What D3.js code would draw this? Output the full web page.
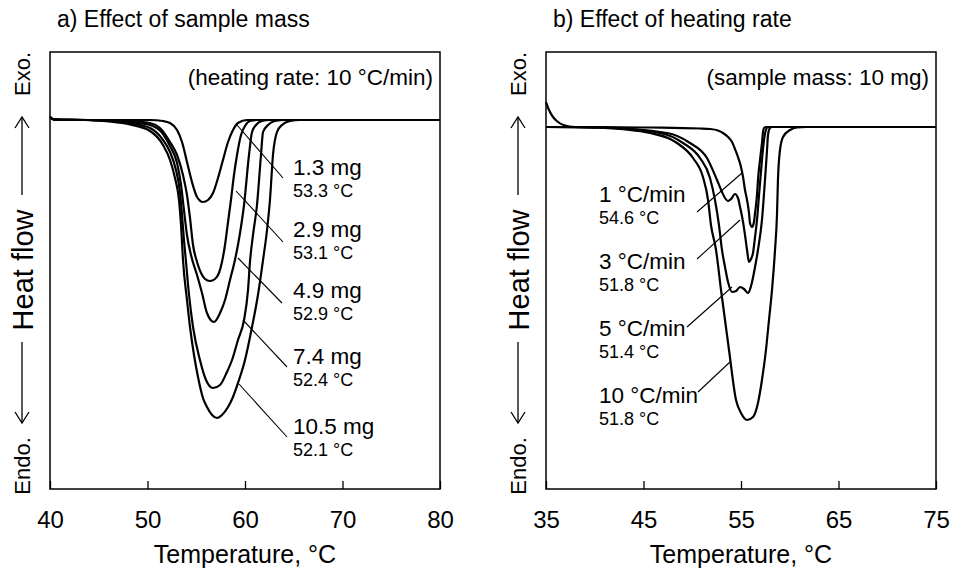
<!DOCTYPE html>
<html>
<head>
<meta charset="utf-8">
<script src="https://cdn.jsdelivr.net/npm/d3@7"></script>
<style>
body { margin: 0; background: #fff; }
svg { font-family: "Liberation Sans", Arial, sans-serif; }
.curve { fill: none; stroke: #000; stroke-width: 2.2px; stroke-linejoin: round; }
.leader { stroke: #000; stroke-width: 1.1px; }
.frame { fill: none; stroke: #000; stroke-width: 1.5px; }
</style>
</head>
<body>
<svg id="chart" width="954" height="575"></svg>
<script>

// ---- a) effect of sample mass (heating rate 10 C/min) ----
var massNames = ["1.3 mg", "2.9 mg", "4.9 mg", "7.4 mg", "10.5 mg"];
var massOnsets = ["53.3 °C", "53.1 °C", "52.9 °C", "52.4 °C", "52.1 °C"];

var mass_1_3 = [[40,0.3],[40.4,0.05],[45,0],[50.26,0],[51.59,-0.1],[52.31,-0.3],[53.03,-1.0],[53.54,-2.2],
  [54.05,-4.2],[54.56,-6.2],[55.08,-7.7],[55.69,-8.2],[56.21,-8.0],[56.72,-7.3],[57.23,-5.8],[57.74,-4.0],
  [58.26,-2.2],[58.77,-1.0],[59.28,-0.3],[60.21,0],[80,0]];
var mass_2_9 = [[40,0.3],[40.4,0.05],[44,0],[46.7,-0.05],[48.9,-0.15],[50.26,-0.3],[51.28,-0.8],[52.31,-2.2],
  [53.03,-3.5],[53.64,-5.5],[54.05,-7.5],[54.36,-9.8],[54.67,-12.5],[55.08,-14.2],[55.49,-15.3],[55.9,-15.9],
  [56.41,-16.1],[56.92,-15.9],[57.33,-15.3],[57.64,-14.2],[57.95,-12.5],[58.26,-10.2],[58.56,-8.0],[58.87,-5.5],
  [59.18,-3.5],[59.59,-1.5],[60.0,-0.6],[60.51,-0.1],[61.33,0],[80,0]];
var mass_4_9 = [[40,0.3],[40.4,0.05],[44,0],[46.5,-0.1],[48.5,-0.25],[50.26,-0.5],[51.59,-1.4],[52.31,-2.6],
  [53.03,-4.3],[53.44,-6.5],[53.74,-9.0],[54.05,-11.5],[54.46,-13.5],[55.08,-15.5],[55.59,-17.3],[56.1,-19.3],
  [56.82,-20.2],[57.44,-19.3],[57.95,-18.0],[58.46,-16.0],[58.97,-14.0],[59.49,-11.3],[59.9,-8.5],[60.41,-3.5],
  [60.72,-1.2],[61.13,-0.5],[61.74,-0.1],[62.56,0],[80,0]];
var mass_7_4 = [[40,0.3],[40.4,0.05],[44,0],[46.3,-0.1],[48.3,-0.35],[50.26,-0.8],[51.59,-2.0],[52.31,-3.2],
  [52.92,-5.0],[53.33,-7.2],[53.54,-9.5],[53.74,-12.0],[53.95,-14.2],[54.26,-17.5],[54.67,-20.7],[55.38,-24.0],
  [56.0,-26.0],[56.72,-26.8],[57.44,-26.5],[58.15,-25.2],[58.67,-24.0],[59.28,-22.0],[59.9,-20.0],[60.31,-17.0],
  [60.51,-14.2],[60.82,-11.5],[61.23,-8.5],[61.64,-3.5],[61.85,-1.2],[62.36,-0.5],[63.08,-0.1],[64.1,0],[80,0]];
var mass_10_5 = [[40,0.3],[40.4,0.05],[43.5,0],[46,-0.15],[48.2,-0.45],[50.26,-1.1],[51.59,-2.5],[52.31,-4.0],
  [52.82,-5.8],[53.23,-8.0],[53.44,-10.5],[53.64,-14.0],[54.05,-18.0],[54.36,-20.7],[54.77,-23.5],[55.18,-25.7],
  [55.69,-27.8],[56.1,-28.7],[56.62,-29.5],[57.13,-29.8],[57.64,-29.5],[58.26,-28.7],[58.77,-27.7],[59.28,-26.3],
  [60.0,-24.0],[60.72,-20.7],[61.33,-17.5],[61.85,-14.0],[62.26,-11.0],[62.56,-8.0],[62.87,-3.5],[63.28,-1.2],
  [63.79,-0.5],[64.62,-0.1],[65.64,0],[80,0]];

// leader lines: [T on curve, value on curve, T at label, value at label]
var massLeaders = [[59.18,-0.5,63.9,-5.8],[59.08,-7.1,63.9,-12.2],[59.28,-13.8,63.79,-18.3],
                   [59.79,-20.0,64.31,-24.7],[59.38,-26.4,64.31,-31.7]];
var massLabelT = 64.92;
var massLabelV = [-5.5, -11.7, -17.8, -24.4, -31.4];

// ---- b) effect of heating rate (sample mass 10 mg) ----
var rateNames = ["1 °C/min", "3 °C/min", "5 °C/min", "10 °C/min"];
var rateOnsets = ["54.6 °C", "51.8 °C", "51.4 °C", "51.8 °C"];

var rate_1 = [[35,0],[40.54,0],[45.67,-0.05],[50.79,-0.15],[51.82,-0.2],[52.64,-0.35],[53.15,-0.6],[53.67,-1.0],
  [54.08,-1.5],[54.38,-2.2],[54.69,-3.0],[55.0,-4.0],[55.21,-5.0],[55.41,-6.3],[55.62,-7.3],[55.82,-8.6],
  [55.92,-9.6],[56.13,-10.0],[56.33,-9.5],[56.44,-8.6],[56.64,-6.8],[56.74,-5.3],[56.95,-3.3],[57.15,-1.6],
  [57.26,-0.5],[57.36,-0.1],[57.56,0],[75,0]];
var rate_3 = [[35,0],[40.54,-0.05],[47.41,-0.6],[49.77,-1.6],[51.51,-3.1],[52.54,-5.3],[53.05,-6.5],[53.36,-7.1],
  [53.67,-7.4],[53.98,-7.2],[54.38,-6.7],[54.69,-7.1],[54.9,-8.0],[55.21,-9.5],[55.41,-10.8],[55.62,-12.3],
  [55.82,-13.5],[56.03,-13.2],[56.23,-12.6],[56.44,-11.0],[56.64,-9.3],[56.85,-6.8],[57.15,-3.3],[57.36,-1.3],
  [57.56,-0.3],[57.77,0],[75,0]];
var rate_5 = [[35,0],[40.54,-0.05],[46.69,-0.6],[49.05,-1.6],[50.79,-3.1],[51.82,-5.1],[52.33,-7.3],[52.74,-9.8],
  [53.05,-12.3],[53.36,-14.0],[53.67,-15.5],[54.08,-16.5],[54.49,-16.4],[54.9,-16.0],[55.31,-16.2],[55.72,-16.6],
  [56.03,-15.9],[56.44,-14.0],[56.74,-12.3],[57.15,-9.3],[57.46,-5.3],[57.67,-2.3],[57.77,-0.8],[57.97,-0.1],
  [58.18,0],[75,0]];
var rate_10 = [[35,2.5],[35.31,1.7],[35.72,1.0],[36.23,0.5],[36.95,0.15],[37.97,0],[40.54,-0.07],[45.67,-0.6],
  [48.44,-1.6],[50.08,-3.1],[51.1,-5.0],[51.62,-7.3],[51.92,-9.8],[52.44,-12.3],[52.95,-16.3],[53.77,-22.3],
  [54.49,-27.3],[55.0,-28.6],[55.62,-29.3],[56.23,-29.0],[56.74,-27.6],[57.15,-25.3],[57.56,-22.3],[57.87,-19.3],
  [58.18,-16.3],[58.49,-12.3],[58.69,-8.8],[58.79,-5.3],[59.0,-2.3],[59.31,-1.0],[60.03,-0.3],[60.74,-0.05],
  [61.67,0],[75,0]];

var rateLeaders = [[55.1,-4.6,50.49,-8.5],[54.9,-9.3,50.49,-13.2],[54.08,-16.0,49.46,-20.0],[53.87,-23.5,50.59,-26.5]];
var rateLabelT = 40.44;
var rateLabelV = [-7.5, -14.2, -20.9, -27.6];

var svg = d3.select("#chart");

function add_panel(p){
	var x = d3.scaleLinear().domain(p.xExt).range([p.left, p.right]);
	var y = d3.scaleLinear().domain(p.yExt).range([p.bottom, p.top]);

	var g = svg.append("g");

	// curves
	var line = d3.line()
		.curve(d3.curveMonotoneX)
		.x(function(d){ return x(d[0]); })
		.y(function(d){ return y(d[1]); });

	g.selectAll("path.curve").data(p.series).enter()
		.append("path")
		.attr("class", "curve")
		.attr("d", line);

	// leader lines
	g.selectAll("line.leader").data(p.leaders).enter()
		.append("line")
		.attr("class", "leader")
		.attr("x1", function(d){ return x(d[0]); })
		.attr("y1", function(d){ return y(d[1]); })
		.attr("x2", function(d){ return x(d[2]); })
		.attr("y2", function(d){ return y(d[3]); });

	// labels
	p.names.forEach(function(n, i){
		g.append("text")
			.attr("x", x(p.labelT)).attr("y", y(p.labelV[i]))
			.attr("font-size", "22.5px")
			.text(n);
		g.append("text")
			.attr("x", x(p.labelT)).attr("y", y(p.labelV[i]) + 22)
			.attr("font-size", "18px")
			.text(p.onsets[i]);
	});

	// frame + axis
	g.append("rect").attr("class", "frame")
		.attr("x", p.left).attr("y", p.top)
		.attr("width", p.right - p.left).attr("height", p.bottom - p.top);

	var ax = g.append("g")
		.attr("transform", "translate(0," + p.bottom + ")")
		.call(d3.axisBottom(x).tickValues(p.ticks).tickSizeInner(-8).tickSizeOuter(0).tickPadding(22));
	ax.select(".domain").remove();
	ax.selectAll("line").attr("stroke-width", 1.3);
	ax.selectAll("text").attr("font-size", "24px").attr("font-family", "Liberation Sans, Arial, sans-serif");

	g.append("text")
		.attr("x", (p.left + p.right) / 2).attr("y", 563)
		.attr("text-anchor", "middle").attr("font-size", "25px")
		.text("Temperature, °C");

	g.append("text")
		.attr("x", p.left + 7).attr("y", 27)
		.attr("font-size", "23px")
		.text(p.title);

	g.append("text")
		.attr("x", p.right - 7).attr("y", 85)
		.attr("text-anchor", "end").attr("font-size", "22.5px")
		.text(p.note);

	// y label: Endo. <-- Heat flow --> Exo.
	var cx = p.left - 28;
	var yl = g.append("g").attr("text-anchor", "middle");
	yl.append("text").attr("font-size", "22px")
		.attr("transform", "translate(" + (cx + 8) + ",74) rotate(-90)").text("Exo.");
	yl.append("text").attr("font-size", "29px")
		.attr("transform", "translate(" + (cx + 11) + ",270) rotate(-90)").text("Heat flow");
	yl.append("text").attr("font-size", "22px")
		.attr("transform", "translate(" + (cx + 8) + ",466) rotate(-90)").text("Endo.");
	var ar = g.append("g").attr("stroke", "#000").attr("stroke-width", 1.3).attr("fill", "none");
	ar.append("line").attr("x1", cx).attr("x2", cx).attr("y1", 117).attr("y2", 195);
	ar.append("path").attr("d", "M" + (cx - 7) + ",128L" + cx + ",117L" + (cx + 7) + ",128");
	ar.append("line").attr("x1", cx).attr("x2", cx).attr("y1", 342).attr("y2", 423);
	ar.append("path").attr("d", "M" + (cx - 7) + ",412L" + cx + ",423L" + (cx + 7) + ",412");
}

add_panel({
	left: 50, right: 440, top: 52, bottom: 489,
	xExt: [40, 80], yExt: [-36.9, 6.8], ticks: [40, 50, 60, 70, 80],
	series: [mass_1_3, mass_2_9, mass_4_9, mass_7_4, mass_10_5],
	leaders: massLeaders, names: massNames, onsets: massOnsets,
	labelT: massLabelT, labelV: massLabelV,
	title: "a) Effect of sample mass", note: "(heating rate: 10 °C/min)"
});

add_panel({
	left: 546, right: 936, top: 52, bottom: 489,
	xExt: [35, 75], yExt: [-36.2, 7.5], ticks: [35, 45, 55, 65, 75],
	series: [rate_1, rate_3, rate_5, rate_10],
	leaders: rateLeaders, names: rateNames, onsets: rateOnsets,
	labelT: rateLabelT, labelV: rateLabelV,
	title: "b) Effect of heating rate", note: "(sample mass: 10 mg)"
});

</script>
</body>
</html>
